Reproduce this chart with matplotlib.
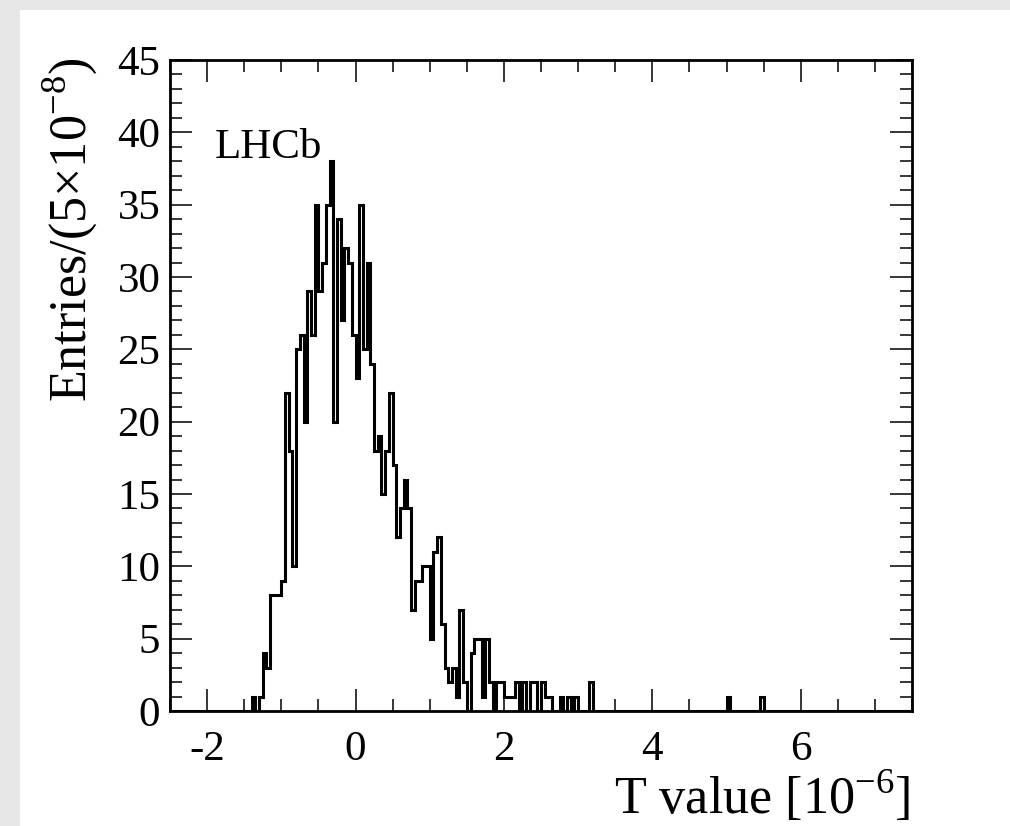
import numpy as np
import matplotlib
matplotlib.use('Agg')
import matplotlib.pyplot as plt
from matplotlib.ticker import MultipleLocator
from matplotlib.patches import Rectangle

# T value histogram, bins of 5e-8 (axis in units of 1e-6)
x_lo, x_hi, n_bins = -2.5, 7.5, 200

# counts of bins 22 .. 113
first_bin = 22
core_counts = [1, 0, 1, 4, 3, 8, 8, 8, 9, 22,
               18, 10, 25, 26, 20, 29, 26, 35, 29, 31,
               35, 38, 20, 34, 27, 32, 31, 26, 23, 35,
               25, 31, 24, 18, 19, 15, 18, 22, 17, 12,
               14, 16, 14, 7, 9, 9, 10, 10, 5, 11,
               12, 6, 3, 2, 3, 1, 7, 2, 0, 4,
               5, 5, 1, 5, 2, 0, 2, 2, 1, 1,
               1, 2, 0, 2, 0, 2, 2, 0, 2, 1,
               1, 0, 0, 1, 0, 1, 0, 1, 0, 0,
               0, 2]
# isolated far-tail entries
tail_bins = [150, 159]
tail_counts = [1, 1]

edges = np.linspace(x_lo, x_hi, n_bins + 1)
counts = np.zeros(n_bins)
counts[first_bin:first_bin + len(core_counts)] = core_counts
counts[tail_bins] = tail_counts

plt.rcParams['font.family'] = ['Liberation Serif', 'DejaVu Serif']
plt.rcParams['mathtext.fontset'] = 'custom'
plt.rcParams['mathtext.rm'] = 'Liberation Serif'
plt.rcParams['axes.unicode_minus'] = False

fig = plt.figure(figsize=(10.1, 8.26), dpi=100, facecolor='#e6e6e6')
fig.patches.append(Rectangle((20 / 1010, 0), 990 / 1010, 816 / 826,
                             transform=fig.transFigure, facecolor='white',
                             edgecolor='none', zorder=-10))

ax = fig.add_axes([170 / 1010, 1 - 711 / 826, 742 / 1010, 651 / 826])
ax.set_facecolor('white')
ax.stairs(counts, edges, color='black', lw=2.2, baseline=0)

ax.set_xlim(x_lo, x_hi)
ax.set_ylim(0, 45)
ax.xaxis.set_major_locator(MultipleLocator(2))
ax.xaxis.set_minor_locator(MultipleLocator(0.5))
ax.yaxis.set_major_locator(MultipleLocator(5))
ax.yaxis.set_minor_locator(MultipleLocator(1))
ax.tick_params(which='both', direction='in', top=True, right=True,
               labelsize=31, width=1.1)
ax.tick_params(which='major', length=16)
ax.tick_params(which='minor', length=8.5)
ax.tick_params(axis='x', which='major', pad=14)
ax.tick_params(axis='y', which='major', pad=7)
for s in ax.spines.values():
    s.set_linewidth(2.0)

ax.text(0.06, 0.849, 'LHCb', transform=ax.transAxes, fontsize=31,
        va='baseline', ha='left')

fig.text(0.098, 0.931, 'Entries/(5×10$^{-8}$)', rotation=90, fontsize=37.5,
         ha='right', va='top')
fig.text(0.901, 0.015, 'T value [10$^{-6}$]', fontsize=37.5,
         ha='right', va='baseline')

fig.savefig('out.png', dpi=100, facecolor=fig.get_facecolor())
